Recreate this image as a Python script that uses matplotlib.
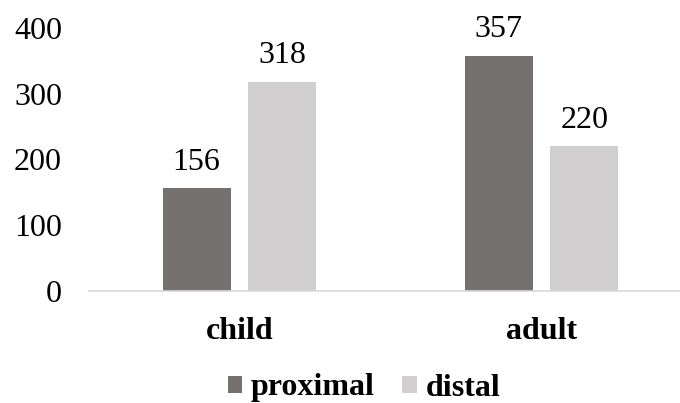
import matplotlib
matplotlib.use("Agg")
import matplotlib.pyplot as plt
import numpy as np

categories = ["child", "adult"]
series_names = ["proximal", "distal"]
proximal = [156, 357]
distal = [318, 220]
y_ticks = [0, 100, 200, 300, 400]

plt.rcParams['font.family'] = ['Liberation Serif', 'DejaVu Serif']

fig = plt.figure(figsize=(6.8, 4.03), dpi=100)
ax = fig.add_axes([88.5/680, 112/403, 604/680, 263/403])

x = np.arange(len(categories))
w = 0.225
off = 0.142
colors = ["#767171", "#D0CECE"]
b1 = ax.bar(x - off, proximal, w, color=colors[0], label=series_names[0])
b2 = ax.bar(x + off, distal, w, color=colors[1], label=series_names[1])

for bars in (b1, b2):
    ax.bar_label(bars, padding=8.5, fontsize=23, color="black")

ax.set_xlim(-0.5, 1.5)
ax.set_ylim(0, 400)
ax.set_yticks(y_ticks)
ax.set_xticks(x)
ax.set_xticklabels(categories, fontsize=23, fontweight="bold")
ax.tick_params(axis="y", length=0, pad=19, labelsize=23)
ax.tick_params(axis="x", length=0, pad=18.5)
for s in ["top", "right", "left"]:
    ax.spines[s].set_visible(False)
ax.spines["bottom"].set_color("#D9D9D9")
ax.spines["bottom"].set_linewidth(1.2)

leg = fig.legend(loc="center", bbox_to_anchor=(364/680, 1 - 388/403), ncol=2,
                 frameon=False, prop={"size": 23, "weight": "bold"},
                 handlelength=0.45, handleheight=0.45, handletextpad=0.28,
                 columnspacing=0.85, borderpad=0, borderaxespad=0)

fig.savefig("out.png", dpi=100)
